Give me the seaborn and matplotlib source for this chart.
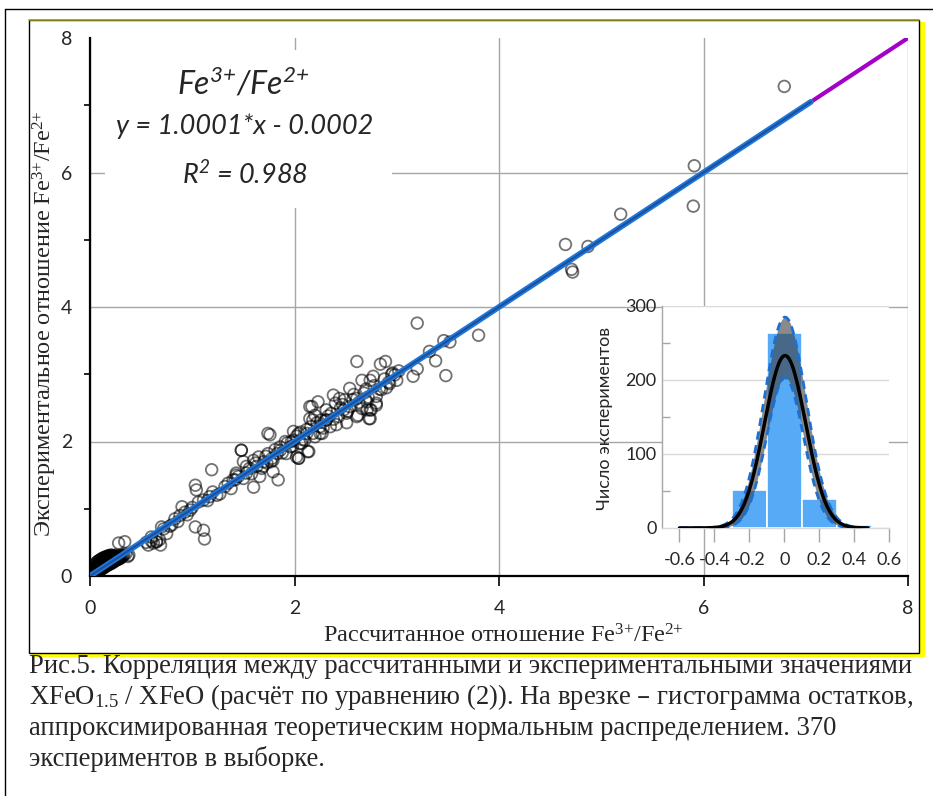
import numpy as np
import pandas as pd
import matplotlib
matplotlib.use("Agg")
import matplotlib.pyplot as plt
import seaborn as sns
from matplotlib.patches import Rectangle
from matplotlib.lines import Line2D

# ---------------- data ----------------
# dense cluster near the origin (calculated, experimental)
cluster_x = [0.01, 0.01, 0.02, 0.02, 0.02, 0.03, 0.03, 0.03, 0.04, 0.04, 0.04, 0.04,
             0.05, 0.05, 0.05, 0.05, 0.06, 0.06, 0.06, 0.06, 0.07, 0.07, 0.07, 0.07,
             0.08, 0.08, 0.08, 0.08, 0.09, 0.09, 0.09, 0.09, 0.10, 0.10, 0.10, 0.10,
             0.11, 0.11, 0.11, 0.11, 0.12, 0.12, 0.12, 0.12, 0.13, 0.13, 0.13, 0.13,
             0.14, 0.14, 0.14, 0.14, 0.15, 0.15, 0.15, 0.15, 0.16, 0.16, 0.16, 0.16,
             0.17, 0.17, 0.17, 0.17, 0.18, 0.18, 0.18, 0.18, 0.19, 0.19, 0.19, 0.19,
             0.20, 0.20, 0.20, 0.20, 0.21, 0.21, 0.21, 0.21, 0.22, 0.22, 0.22, 0.23,
             0.23, 0.23, 0.24, 0.24, 0.24, 0.25, 0.25, 0.25, 0.26, 0.26, 0.27, 0.27,
             0.28, 0.28, 0.29, 0.29, 0.30, 0.30, 0.31, 0.32, 0.33, 0.35, 0.02, 0.04,
             0.06, 0.03, 0.05, 0.08]
cluster_y = [0.02, 0.05, 0.01, 0.04, 0.08, 0.03, 0.07, 0.11, 0.02, 0.05, 0.10, 0.14,
             0.04, 0.08, 0.12, 0.17, 0.05, 0.09, 0.14, 0.19, 0.06, 0.11, 0.15, 0.21,
             0.07, 0.12, 0.17, 0.22, 0.08, 0.13, 0.18, 0.23, 0.09, 0.14, 0.19, 0.24,
             0.10, 0.15, 0.20, 0.25, 0.11, 0.16, 0.21, 0.26, 0.12, 0.17, 0.22, 0.27,
             0.13, 0.18, 0.23, 0.27, 0.14, 0.19, 0.24, 0.28, 0.15, 0.20, 0.25, 0.29,
             0.16, 0.21, 0.26, 0.29, 0.17, 0.22, 0.26, 0.30, 0.18, 0.22, 0.27, 0.30,
             0.18, 0.23, 0.28, 0.31, 0.19, 0.24, 0.28, 0.31, 0.20, 0.25, 0.29, 0.21,
             0.26, 0.30, 0.22, 0.26, 0.30, 0.23, 0.27, 0.31, 0.24, 0.28, 0.25, 0.29,
             0.25, 0.28, 0.26, 0.30, 0.27, 0.31, 0.28, 0.30, 0.31, 0.33, 0.00, 0.01,
             0.03, 0.00, 0.02, 0.05]

low_x = [0.28, 0.34, 0.37, 0.38, 0.62, 0.65, 0.68, 0.57, 0.60, 0.70, 0.69, 0.65,
         0.75, 0.80, 0.86, 0.90, 0.95, 0.98, 1.03, 1.04, 1.11, 1.03, 1.11, 1.12,
         1.17, 1.24, 1.32, 1.40, 1.43, 1.53, 1.19]
low_y = [0.49, 0.51, 0.29, 0.31, 0.49, 0.51, 0.54, 0.46, 0.52, 0.73, 0.46, 0.51,
         0.63, 0.76, 0.81, 1.03, 0.91, 0.98, 1.35, 1.28, 1.13, 0.73, 0.68, 0.55,
         1.18, 1.20, 1.33, 1.43, 1.50, 1.53, 1.58]

mid_x = [1.74, 1.48, 1.84, 1.60, 2.04, 2.14, 1.63, 1.70, 1.78, 1.86, 1.96, 1.99,
         1.79, 1.66, 2.15, 2.31, 2.51, 2.61, 2.74, 2.74, 2.80, 2.18, 2.25, 2.05,
         1.92, 2.77, 2.74, 2.96, 2.98, 2.90, 2.85, 2.80, 2.75, 2.73, 2.62, 2.61,
         2.54, 2.66, 2.71, 2.80, 2.51, 2.43, 2.38, 2.40, 2.31, 2.23, 2.17, 2.20,
         2.15, 2.25, 2.35, 2.41, 2.27, 2.12, 2.04, 1.99, 2.07, 2.13, 2.02, 1.97,
         1.91, 1.86, 1.76, 1.83, 1.79, 1.74, 1.73, 1.69, 1.65, 1.60, 1.53, 1.48,
         1.50, 1.43, 1.42, 2.04, 2.10, 2.20, 2.31, 2.48, 2.54, 2.44, 2.49, 2.66,
         2.71, 3.00, 2.93]
mid_y = [2.12, 1.87, 1.43, 1.32, 1.75, 1.85, 1.63, 1.70, 1.75, 1.87, 1.92, 2.02,
         1.55, 1.48, 2.52, 2.32, 2.42, 2.37, 2.34, 2.47, 2.57, 2.32, 2.12, 1.97,
         1.82, 2.97, 2.91, 3.02, 2.99, 2.80, 2.77, 2.67, 2.47, 2.34, 2.39, 2.64,
         2.79, 2.91, 2.59, 2.54, 2.28, 2.37, 2.69, 2.57, 2.47, 2.59, 2.52, 2.39,
         2.34, 2.22, 2.22, 2.25, 2.12, 2.12, 2.12, 2.15, 1.97, 1.85, 1.77, 2.00,
         2.00, 1.92, 2.10, 1.82, 1.72, 1.82, 1.68, 1.63, 1.77, 1.72, 1.63, 1.87,
         1.70, 1.53, 1.43, 1.75, 2.02, 2.07, 2.32, 2.47, 2.52, 2.64, 2.62, 2.49,
         2.47, 2.91, 2.86]

line_x = [0.55, 0.60, 0.72, 0.78, 0.83, 0.88, 0.93, 1.00, 1.06, 1.15, 1.20, 1.27,
          1.35, 1.38, 1.45, 1.50, 1.56, 1.58, 1.62, 1.68, 1.72, 1.77, 1.81, 1.88,
          1.93, 1.98, 2.02, 2.08, 2.12, 2.18, 2.22, 2.28, 2.33, 2.38, 2.45, 2.52,
          2.57, 2.63, 2.68, 2.72, 2.78, 2.83, 2.88, 2.92, 2.95, 3.02, 2.70, 2.58,
          2.47, 2.36, 2.26, 2.16, 2.06]
line_y = [0.50, 0.58, 0.70, 0.74, 0.85, 0.90, 0.95, 1.02, 1.10, 1.12, 1.25, 1.22,
          1.38, 1.30, 1.48, 1.45, 1.60, 1.52, 1.68, 1.60, 1.78, 1.70, 1.88, 1.83,
          1.98, 1.93, 2.08, 2.03, 2.18, 2.12, 2.28, 2.20, 2.38, 2.33, 2.50, 2.45,
          2.62, 2.58, 2.72, 2.66, 2.83, 2.78, 2.93, 2.88, 3.00, 3.05, 2.78, 2.70,
          2.55, 2.42, 2.32, 2.22, 2.14]

high_x = [3.20, 3.80, 3.46, 3.52, 3.32, 3.38, 3.48, 3.20, 3.16, 2.61, 2.84, 2.89,
          4.65, 4.87, 4.71, 4.72, 5.19, 5.91, 5.90, 6.79]
high_y = [3.76, 3.58, 3.50, 3.48, 3.34, 3.20, 2.98, 3.08, 2.97, 3.19, 3.15, 3.19,
          4.93, 4.90, 4.56, 4.52, 5.38, 6.10, 5.50, 7.28]

fit_slope = 1.0001
fit_intercept = -0.0002
fit_x_range = [0.0, 7.05]
one_to_one = [0.0, 8.0]

# residual histogram (inset)
bin_edges = [-0.7, -0.5, -0.3, -0.1, 0.1, 0.3, 0.5]
bin_centers = [-0.6, -0.4, -0.2, 0.0, 0.2, 0.4]
bin_counts = [1, 2, 51, 264, 39, 4]
# theoretical normal curve and its band: (amplitude, mean, sigma)
norm_main = (233, 0.005, 0.118)
norm_upper = (285, 0.005, 0.121)
norm_lower = (203, 0.005, 0.106)
norm_range = [-0.6, 0.48]

main_ticks = [0, 2, 4, 6, 8]
inset_xticks = [-0.6, -0.4, -0.2, 0.0, 0.2, 0.4, 0.6]
inset_xticklabels = ["-0.6", "-0.4", "-0.2", "0", "0.2", "0.4", "0.6"]
inset_yticks = [0, 100, 200, 300]

SUP3 = r"$^{3{+}}$"
SUP2 = r"$^{2{+}}$"
xlabel = "Рассчитанное отношение Fe" + SUP3 + "/Fe" + SUP2
ylabel = "Экспериментальное отношение Fe" + SUP3 + "/Fe" + SUP2
inset_ylabel = "Число экспериментов"
caption = ["Рис.5. Корреляция между рассчитанными и экспериментальными значениями",
           r"XFeO$_{1.5}$ / XFeO (расчёт по уравнению (2)). На врезке – гистограмма остатков,",
           "аппроксимированная теоретическим нормальным распределением. 370",
           "экспериментов в выборке."]

# ---------------- style ----------------
sns.set_theme(style="white")
plt.rcParams['font.family'] = ['Lato', 'DejaVu Sans']
plt.rcParams['mathtext.default'] = 'regular'
SERIF = ['Liberation Serif', 'DejaVu Serif']

W, H = 933, 796
fig = plt.figure(figsize=(W / 100, H / 100), dpi=100)
fig.patch.set_facecolor('white')


def fx(px):
    return px / W


def fy(py):
    return 1 - py / H


# frames
fig.add_artist(Line2D([fx(5), 1], [fy(9), fy(9)], color='black', lw=1))
fig.add_artist(Line2D([fx(5), fx(5)], [0, fy(9)], color='black', lw=1))
fig.add_artist(Rectangle((fx(920), fy(657)), fx(5), (657 - 22) / H, fc='#FFFF00', ec='none'))
fig.add_artist(Rectangle((fx(31), fy(657)), (925 - 31) / W, 4 / H, fc='#FFFF00', ec='none'))
fig.add_artist(Rectangle((fx(29), fy(653)), (919 - 29) / W, (653 - 20) / H, fill=False,
                         ec='black', lw=1))
fig.add_artist(Line2D([fx(29), fx(919)], [fy(20), fy(20)], color='#9C9C1C', lw=1.2))

# ---------------- main axes ----------------
ax = fig.add_axes([fx(90), fy(576), (908 - 90) / W, (576 - 38) / H])
ax.set_xlim(0, 8)
ax.set_ylim(0, 8)
ax.set_axisbelow(True)

df = pd.DataFrame({"x": cluster_x + low_x + line_x + mid_x + high_x,
                   "y": cluster_y + low_y + line_y + mid_y + high_y})
sns.scatterplot(data=df, x="x", y="y", ax=ax, marker='o', s=70, facecolor='none',
                edgecolor=(0, 0, 0, 0.55), linewidth=1.3, zorder=2)

sns.lineplot(x=one_to_one, y=one_to_one, ax=ax, color='#A400C8', lw=3, zorder=3)
fit_x = np.array(fit_x_range)
fit_y = fit_slope * fit_x + fit_intercept
sns.lineplot(x=fit_x, y=fit_y, ax=ax, color='#1C78DA', lw=4.2, zorder=4)
sns.lineplot(x=fit_x, y=fit_y, ax=ax, color='#1E4F9E', lw=1.5, zorder=5)

ax.set_xticks(main_ticks)
ax.set_yticks(main_ticks)
ax.set_yticks([1, 3, 5, 7], minor=True)
ax.set_xticklabels([str(t) for t in main_ticks])
ax.set_yticklabels([str(t) for t in main_ticks])
ax.tick_params(axis='x', which='major', direction='out', length=7, width=1.2,
               color='black', pad=10, labelsize=14, bottom=True)
ax.tick_params(axis='y', which='major', length=0, pad=13, labelsize=14)
ax.tick_params(axis='y', which='minor', direction='out', length=4, width=1.2,
               color='black', left=True)
ax.grid(True, which='major', color='#A6A6A6', lw=1)
ax.yaxis.get_gridlines()[-1].set_visible(False)
for s in ['top', 'right']:
    ax.spines[s].set_visible(False)
for s in ['left', 'bottom']:
    ax.spines[s].set_color('black')
    ax.spines[s].set_linewidth(1.6)

ax.set_xlabel(xlabel, fontfamily=SERIF, fontsize=17.5)
ax.set_ylabel(ylabel, fontfamily=SERIF, fontsize=17.5)
ax.xaxis.set_label_coords((503 - 90) / 818, (576 - 636) / 538)
ax.xaxis.label.set_va('center')
ax.yaxis.set_label_coords((45 - 90) / 818, (576 - 324) / 538)
ax.yaxis.label.set_va('center')

# white box behind the equation
ax.add_patch(Rectangle((fx(105), fy(208)), (392 - 105) / W, (208 - 50) / H,
                       transform=fig.transFigure, fc='white', ec='none', zorder=1))
fig.text(fx(243), fy(84), "Fe" + SUP3 + "/Fe" + SUP2, fontsize=23, style='italic',
         ha='center', va='center')
fig.text(fx(245), fy(126), "y = 1.0001*x - 0.0002", fontsize=19.5, style='italic',
         ha='center', va='center')
fig.text(fx(245), fy(175), r"R$^{2}$ = 0.988", fontsize=19.5, style='italic',
         ha='center', va='center')

# ---------------- inset ----------------
axin = fig.add_axes([fx(662), fy(528), 227 / W, 222 / H])
axin.set_facecolor('white')
axin.set_zorder(5)
axin.set_axisbelow(True)
sns.histplot(x=bin_centers, weights=bin_counts, bins=bin_edges, ax=axin,
             color='#56AAF6', alpha=1, edgecolor='white', linewidth=1.2)

xs = np.linspace(norm_range[0], norm_range[1], 300)


def gauss(p):
    a, m, s = p
    return a * np.exp(-(xs - m) ** 2 / (2 * s ** 2))


yu, yl, ym = gauss(norm_upper), gauss(norm_lower), gauss(norm_main)
axin.fill_between(xs, np.minimum(yu, yl), np.maximum(yu, yl), color=(0.24, 0.24, 0.24),
                  alpha=0.6, lw=0, zorder=3)
sns.lineplot(x=xs, y=yu, ax=axin, color='#1F6FD0', lw=2, dashes=(3, 2), zorder=4)
sns.lineplot(x=xs, y=yl, ax=axin, color='#1F6FD0', lw=2, dashes=(3, 2), zorder=4)
sns.lineplot(x=xs, y=ym, ax=axin, color='black', lw=2.5, zorder=5)

axin.set_xlim(-0.7, 0.6)
axin.set_ylim(0, 300)
axin.set_xticks(inset_xticks)
axin.set_xticklabels(inset_xticklabels)
axin.set_yticks(inset_yticks)
axin.set_yticks([50, 150, 250], minor=True)
axin.tick_params(axis='x', which='major', direction='out', length=10, width=1,
                 color='#A6A6A6', pad=7, labelsize=13, bottom=True)
axin.tick_params(axis='y', which='major', length=0, pad=4, labelsize=13)
axin.tick_params(axis='y', which='minor', direction='in', length=6, width=1,
                 color='#A6A6A6', left=True)
axin.grid(True, axis='y', which='major', color='#D9D9D9', lw=1)
axin.grid(False, axis='x')
for s in ['top', 'right']:
    axin.spines[s].set_visible(False)
axin.spines['left'].set_color('#A6A6A6')
axin.spines['left'].set_linewidth(1)
axin.spines['bottom'].set_color('#D9D9D9')
axin.spines['bottom'].set_linewidth(1)
axin.set_xlabel("")
axin.set_ylabel(inset_ylabel, fontsize=13)
axin.yaxis.set_label_coords((605 - 662) / 227, (528 - 418) / 222)
axin.yaxis.label.set_va('center')

# ---------------- caption ----------------
for i, line in enumerate(caption):
    fig.text(fx(29), fy(673 + 31 * i), line, fontfamily=SERIF, fontsize=19.2,
             ha='left', va='baseline')

fig.savefig("out.png", dpi=100)
